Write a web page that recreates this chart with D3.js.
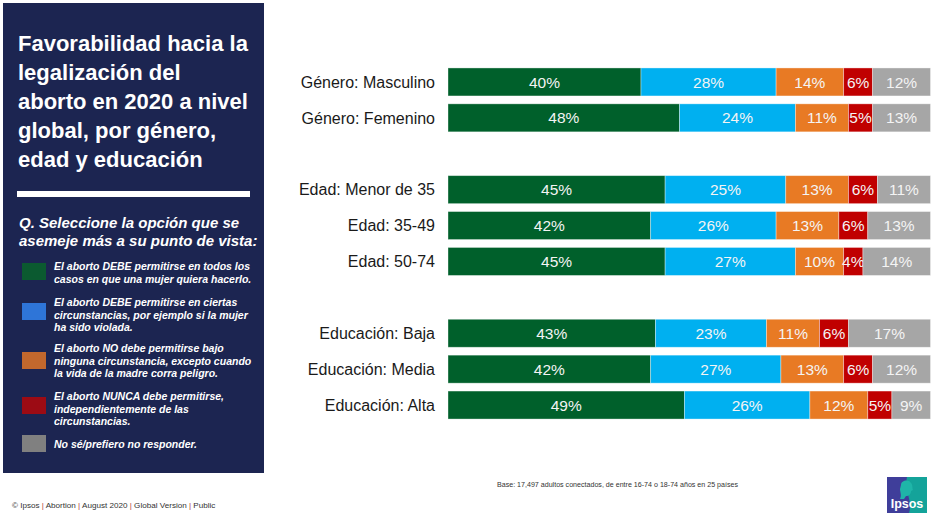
<!DOCTYPE html>
<html>
<head>
<meta charset="utf-8">
<script src="https://cdn.jsdelivr.net/npm/d3@7"></script>
<style>
  html, body { margin: 0; padding: 0; background: #ffffff; }
  svg { display: block; }
  text { font-family: "Liberation Sans", Arial, sans-serif; }
</style>
</head>
<body>
<svg id="chart" width="941" height="519"></svg>
<script>
// ---------- DATA ----------
const categories = [
  "Género: Masculino", "Género: Femenino",
  "Edad: Menor de 35", "Edad: 35-49", "Edad: 50-74",
  "Educación: Baja", "Educación: Media", "Educación: Alta"
];
// slot position of each category (gaps between groups)
const slots = [0, 1, 3, 4, 5, 7, 8, 9];

const seriesNames = [
  "El aborto DEBE permitirse en todos los casos en que una mujer quiera hacerlo.",
  "El aborto DEBE permitirse en ciertas circunstancias, por ejemplo si la mujer ha sido violada.",
  "El aborto NO debe permitirse bajo ninguna circunstancia, excepto cuando la vida de la madre corra peligro.",
  "El aborto NUNCA debe permitirse, independientemente de las circunstancias.",
  "No sé/prefiero no responder."
];
const debeTodos   = [40, 48, 45, 42, 45, 43, 42, 49];
const debeCiertas = [28, 24, 25, 26, 27, 23, 27, 26];
const noExcepto   = [14, 11, 13, 13, 10, 11, 13, 12];
const nunca       = [6, 5, 6, 6, 4, 6, 6, 5];
const noSabe      = [12, 13, 11, 13, 14, 17, 12, 9];

const legendLines = [
  ["El aborto DEBE permitirse en todos los", "casos en que una mujer quiera hacerlo."],
  ["El aborto DEBE permitirse en ciertas", "circunstancias, por ejemplo si la mujer", "ha sido violada."],
  ["El aborto NO debe permitirse bajo", "ninguna circunstancia, excepto cuando", "la vida de la madre corra peligro."],
  ["El aborto NUNCA debe permitirse,", "independientemente de las", "circunstancias."],
  ["No sé/prefiero no responder."]
];
const titleLines = ["Favorabilidad hacia la", "legalización del", "aborto en 2020 a nivel", "global, por género,", "edad y educación"];
const questionLines = ["Q. Seleccione la opción que se", "asemeje más a su punto de vista:"];
const footerParts = ["© Ipsos", "Abortion", "August 2020", "Global Version", "Public"];
const baseNote = "Base: 17,497 adultos conectados, de entre 16-74 o 18-74 años en 25 países";

// ---------- STYLE ----------
const barColors = ["#00602b", "#00b0f0", "#e87a24", "#c00000", "#a6a6a6"];
const swatchColors = ["#0b5a30", "#2e75d8", "#c2682d", "#9c0b14", "#808080"];
const panelColor = "#1c2551";

const svg = d3.select("#chart");

// ---------- LEFT PANEL ----------
svg.append("rect").attr("x", 3).attr("y", 3).attr("width", 261).attr("height", 470).attr("fill", panelColor);

svg.append("g").selectAll("text").data(titleLines).join("text")
  .attr("x", 18).attr("y", (d, i) => 51 + i * 29)
  .attr("fill", "#ffffff").attr("font-weight", "bold").attr("font-size", 22)
  .text(d => d);

svg.append("rect").attr("x", 17).attr("y", 191).attr("width", 233).attr("height", 6).attr("fill", "#ffffff");

svg.append("g").selectAll("text").data(questionLines).join("text")
  .attr("x", 19).attr("y", (d, i) => 228 + i * 18)
  .attr("fill", "#ffffff").attr("font-weight", "bold").attr("font-style", "italic").attr("font-size", 15)
  .text(d => d);

const legendTop = [263, 303, 352, 397, 435];
const legendTextY = [270, 306, 352, 400, 448];
const lg = svg.append("g");
seriesNames.forEach((name, i) => {
  lg.append("rect").attr("x", 22).attr("y", legendTop[i]).attr("width", 24).attr("height", 17).attr("fill", swatchColors[i]);
  lg.append("g").selectAll("text").data(legendLines[i]).join("text")
    .attr("x", 54).attr("y", (d, j) => legendTextY[i] + j * 12.5)
    .attr("fill", "#ffffff").attr("font-weight", "bold").attr("font-style", "italic").attr("font-size", 10.5)
    .text(d => d);
});

// ---------- BARS ----------
const x = d3.scaleLinear().domain([0, 100]).range([448, 930.5]);
const y = d3.scaleBand().domain(d3.range(10)).range([64, 423]).paddingInner(0.22).paddingOuter(0.11);

const rows = categories.map((c, i) => ({
  cat: c, slot: slots[i],
  s0: debeTodos[i], s1: debeCiertas[i], s2: noExcepto[i], s3: nunca[i], s4: noSabe[i]
}));
const keys = ["s0", "s1", "s2", "s3", "s4"];
const stack = d3.stack().keys(keys)(rows);

const bars = svg.append("g");
stack.forEach((layer, k) => {
  const g = bars.append("g");
  g.selectAll("rect").data(layer).join("rect")
    .attr("x", d => x(d[0]))
    .attr("width", d => x(Math.min(d[1], 100)) - x(d[0]))
    .attr("y", d => y(d.data.slot))
    .attr("height", y.bandwidth())
    .attr("fill", barColors[k])
    .attr("stroke", "#ffffff").attr("stroke-opacity", 0.45).attr("stroke-width", 0.8);
  g.selectAll("text").data(layer).join("text")
    .attr("x", d => (x(d[0]) + x(Math.min(d[1], 100))) / 2)
    .attr("y", d => y(d.data.slot) + y.bandwidth() / 2)
    .attr("dy", "0.36em")
    .attr("text-anchor", "middle")
    .attr("fill", "#f4f4f4").attr("font-size", 15.5)
    .text(d => d.data[keys[k]] + "%");
});

// category labels
svg.append("g").selectAll("text").data(rows).join("text")
  .attr("x", 435).attr("y", d => y(d.slot) + y.bandwidth() / 2).attr("dy", "0.36em")
  .attr("text-anchor", "end").attr("fill", "#1a1a1a").attr("font-size", 16)
  .text(d => d.cat);

// ---------- FOOTER ----------
const ft = svg.append("text").attr("x", 12).attr("y", 508).attr("font-size", 8.1).attr("fill", "#333333");
footerParts.forEach((p, i) => {
  if (i > 0) ft.append("tspan").attr("fill", "#b03a3a").text(" | ");
  ft.append("tspan").text(p);
});

svg.append("text").attr("x", 497).attr("y", 487).attr("font-size", 7.1).attr("fill", "#333333").text(baseNote);

// Ipsos logo
const logo = svg.append("g").attr("transform", "translate(887,477)");
logo.append("rect").attr("width", 40).attr("height", 36).attr("fill", "#3f3e9a");
logo.append("path").attr("d", "M20,0 L40,0 L40,36 L22,36 C26,24 17,14 20,0 Z").attr("fill", "#14a39a");
logo.append("path").attr("d", "M14,8 C14,3 22,2 24,6 C26,8 25,11 26,13 L24,14 C24,17 22,19 19,19 L17,22 L13,22 C15,18 13,15 13,12 Z").attr("fill", "#1fb5a8");
logo.append("text").attr("x", 20).attr("y", 31).attr("text-anchor", "middle")
  .attr("fill", "#ffffff").attr("font-weight", "bold").attr("font-size", 12.5).text("Ipsos");
</script>
</body>
</html>
